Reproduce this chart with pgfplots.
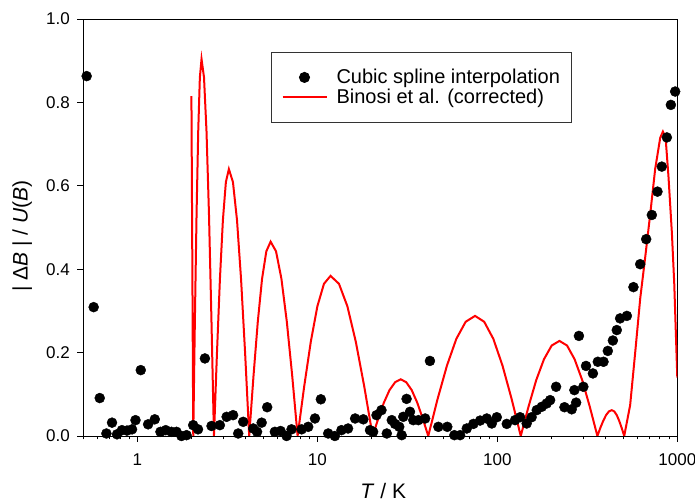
\documentclass[border=0pt]{standalone}
\usepackage{fontspec}
\setmainfont{Liberation Sans}
\usepackage{pgfplots}
\pgfplotsset{compat=1.18}
\usetikzlibrary{calc}
\pgfplotsset{
  dotleg/.style={legend image code/.code={\path (0pt,0pt) (44pt,0pt); \draw[##1] plot coordinates {(22pt,0pt)};}},
  lineleg/.style={legend image code/.code={\draw[##1] (0pt,0pt) -- (44pt,0pt);}},
}

\begin{document}
\begin{tikzpicture}
\begin{axis}[
  name=ax,
  scale only axis,
  width=594pt, height=417pt,
  xmode=log,
  xmin=0.5, xmax=1000,
  ymin=0, ymax=1,
  xtick={1,10,100,1000},
  xticklabels={1,10,100,1000},
  minor xtick={0.5,0.6,0.7,0.8,0.9,2,3,4,5,6,7,8,9,20,30,40,50,60,70,80,90,200,300,400,500,600,700,800,900},
  ytick={0,0.2,0.4,0.6,0.8,1},
  yticklabel style={xshift=-4pt, /pgf/number format/.cd, fixed, fixed zerofill, precision=1, assume math mode=true},
  xticklabel style={yshift=-8pt},
  xtick pos=bottom, ytick pos=left,
  tick align=outside,
  major tick length=6pt, minor tick length=3.5pt,
  tick style={black, line width=0.8pt},
  axis line style={line width=0.8pt},
  ticklabel style={font=\fontsize{17}{20}\selectfont},
  xlabel={\textit{T} / K},
  ylabel={| Δ\textit{B} | / \textit{U}(\textit{B})},
  label style={font=\fontsize{21}{25}\selectfont},
  xlabel style={at={(axis description cs:0.505,-0.133)}, anchor=center},
  ylabel style={at={(axis description cs:-0.103,0.48)}, anchor=center},
  legend style={at={(axis description cs:0.316,0.921)}, anchor=north west,
    draw=black!80, line width=1pt, font=\fontsize{20}{23}\selectfont,
    inner xsep=10pt, inner ysep=15pt, row sep=0pt,
    /tikz/every odd column/.append style={column sep=7pt}},
  legend cell align=left,
]
% spline interpolation deviations
\addplot[only marks, mark=*, mark size=5pt, black, dotleg] coordinates {
(0.522,0.863) (0.571,0.309) (0.617,0.091) (0.672,0.006) (0.722,0.032)
(0.770,0.004) (0.820,0.014) (0.875,0.013) (0.933,0.016) (0.975,0.038)
(1.043,0.158) (1.146,0.028) (1.248,0.040) (1.342,0.010) (1.436,0.014)
(1.545,0.010) (1.648,0.010) (1.756,0.000) (1.874,0.002) (2.04,0.026)
(2.17,0.016) (2.37,0.186) (2.58,0.024) (2.87,0.026) (3.13,0.046)
(3.40,0.050) (3.63,0.006) (3.87,0.034) (4.40,0.018) (4.62,0.010)
(4.90,0.032) (5.26,0.069) (5.80,0.010) (6.24,0.012) (6.74,0.000)
(7.18,0.016) (8.17,0.016) (8.89,0.022) (9.69,0.042) (10.45,0.088)
(11.48,0.006) (12.5,0.000) (13.6,0.014) (14.8,0.018) (16.2,0.042)
(18.0,0.040) (19.6,0.014) (20.4,0.010) (21.3,0.050) (22.7,0.062)
(24.3,0.006) (25.9,0.038) (27.0,0.029) (28.5,0.022) (29.4,0.002)
(30.0,0.046) (31.3,0.089) (32.7,0.058) (34.1,0.038) (36.4,0.038)
(39.7,0.042) (42.2,0.180) (47.0,0.022) (52.7,0.022) (57.7,0.002)
(62.1,0.002) (67.6,0.018) (73.6,0.029) (80.2,0.037) (87.4,0.042)
(93.1,0.030) (99.3,0.045) (112.8,0.029) (125.4,0.038) (133.7,0.045)
(145.5,0.030) (155,0.045) (165.5,0.062) (176.5,0.070) (188,0.078)
(196.5,0.086) (212,0.118) (236,0.069) (259,0.064) (268,0.110)
(274,0.080) (284,0.240) (300.6,0.118) (311,0.168) (339.6,0.150)
(361.6,0.178) (389,0.178) (411,0.204) (438.5,0.229) (461,0.254)
(481,0.282) (524.5,0.288) (570.6,0.357) (622,0.412) (671.6,0.472)
(722,0.530) (776,0.586) (820,0.646) (875,0.716) (921,0.794) (973,0.826)
};
\addlegendentry{Cubic spline interpolation}
% Binosi et al.
\addplot[red, line width=2pt, mark=none, lineleg] coordinates {
(1.995,0.815) (2.042,0) (2.085,0.279) (2.130,0.532) (2.176,0.731) (2.222,0.860)
(2.270,0.904) (2.343,0.860) (2.419,0.731) (2.497,0.532) (2.577,0.279) (2.661,0)
(2.765,0.198) (2.872,0.376) (2.984,0.518) (3.100,0.609) (3.221,0.640)
(3.393,0.609) (3.574,0.518) (3.765,0.376) (3.966,0.198) (4.178,0)
(4.414,0.144) (4.663,0.274) (4.925,0.377) (5.202,0.443) (5.495,0.466)
(5.888,0.443) (6.310,0.377) (6.761,0.274) (7.245,0.144) (7.762,0)
(8.445,0.119) (9.188,0.226) (9.995,0.311) (10.874,0.365) (11.830,0.384)
(13.176,0.365) (14.676,0.311) (16.345,0.226) (18.206,0.119) (20.278,0)
(21.789,0.042) (23.411,0.080) (25.154,0.110) (27.028,0.129) (29.04,0.136)
(31.16,0.129) (33.435,0.110) (35.876,0.080) (38.495,0.042) (41.304,0)
(46.56,0.089) (52.48,0.169) (59.16,0.233) (66.68,0.274) (75.16,0.288)
(84.49,0.274) (94.98,0.233) (106.76,0.169) (120.01,0.089) (134.90,0)
(148.93,0.070) (164.43,0.134) (181.56,0.184) (200.45,0.217) (221.31,0.228)
(243.9,0.217) (268.77,0.184) (296.20,0.134) (326.44,0.070) (359.74,0)
(373.25,0.019) (387.28,0.036) (401.81,0.050) (416.86,0.059) (432.5,0.062)
(446.5,0.059) (460.9,0.050) (475.8,0.036) (491.1,0.019) (507.0,0)
(547.0,0.074) (583.4,0.200) (622.3,0.330) (663.8,0.430) (706.3,0.530)
(753.4,0.640) (803.5,0.715) (831.8,0.730) (861.0,0.715) (893.3,0.622)
(933.3,0.486) (961.6,0.366) (981.8,0.246) (1000,0.140)
};
\addlegendentry{Binosi et al. (corrected)}
\end{axis}
\pgfresetboundingbox
\path ($(ax.south west)+(-83.3pt,-66pt)$) rectangle ($(ax.north east)+(17.7pt,19pt)$);
\end{tikzpicture}
\end{document}
